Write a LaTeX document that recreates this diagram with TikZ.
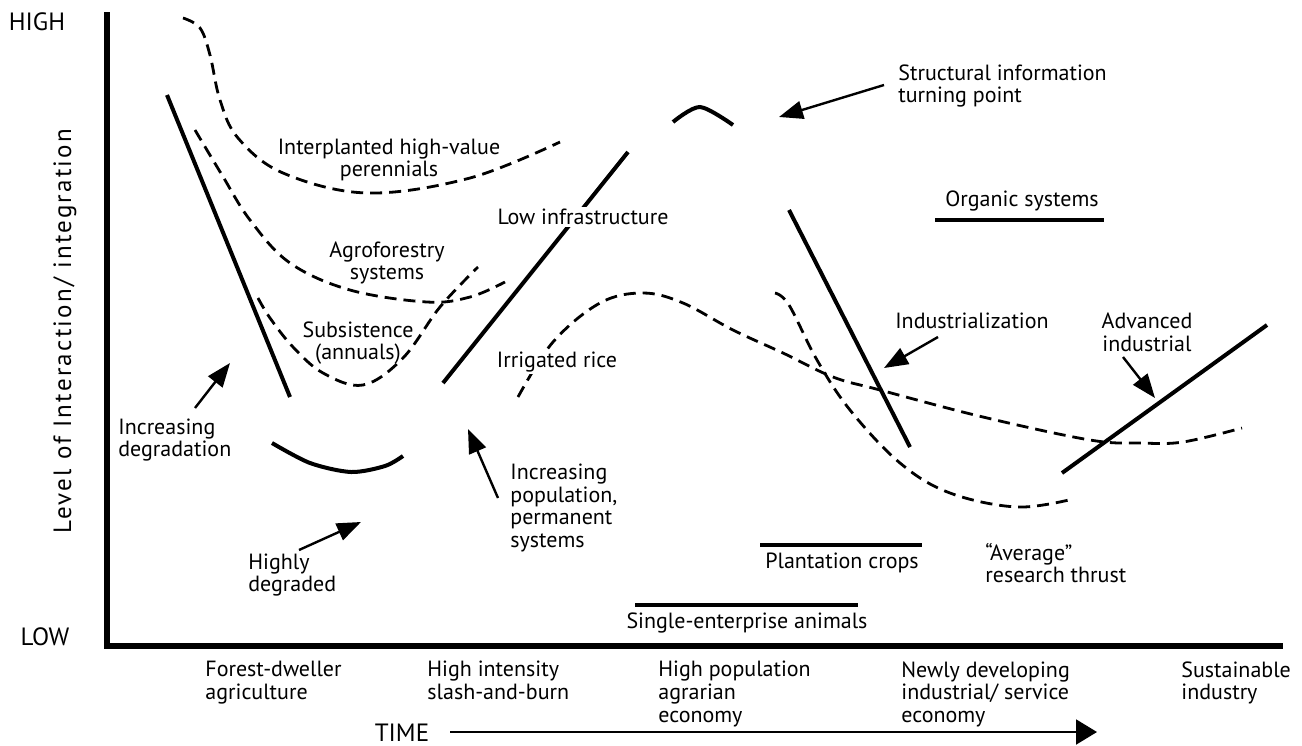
\documentclass[tikz,border=0pt]{standalone}
\usepackage{fontspec}
\setmainfont{PT Sans}
\usetikzlibrary{arrows.meta}
\begin{document}
\begin{tikzpicture}[x=0.5pt,y=-0.5pt,
  every node/.style={font=\fontsize{11}{11.4}\selectfont, inner sep=1pt},
  bigtext/.style={font=\fontsize{12.5}{14}\selectfont},
  axisline/.style={line width=3pt},
  trend/.style={line width=2pt},
  dashcurve/.style={line width=1.4pt, dash pattern=on 6pt off 3.5pt, smooth, tension=0.6},
  bar/.style={line width=2.2pt},
  pointer/.style={line width=1.2pt, -{Triangle[length=12pt,width=9pt]}},
  lbl/.style={align=center},
  lblL/.style={align=left, anchor=west},
  xlbl/.style={align=left, anchor=north west}]
\useasboundingbox (0,0) rectangle (1302,745);

% axes
\draw[axisline] (107,12) -- (107,646) -- (1283,646);
\node[bigtext] (high) at (37,22) {HIGH};
\node[bigtext] (low) at (45,637) {LOW};
\node[rotate=90, font=\fontsize{12.5}{14}\selectfont\addfontfeature{LetterSpace=9}] (ylab) at (65,331) {Level of Interaction/ integration};

% dashed system curves
\draw[dashcurve] plot coordinates {(183,18) (200,28) (210,55) (220,100) (238,138) (283,173) (367,193) (470,178) (560,142)};
\draw[dashcurve] plot coordinates {(195,130) (222,175) (250,220) (290,263) (350,290) (427,302) (470,297) (505,282)};
\draw[dashcurve] plot coordinates {(258,298) (270,318) (293,347) (323,373) (363,385) (403,358) (440,307) (478,267)};
\draw[dashcurve] plot coordinates {(518,397) (553,342) (600,303) (643,293) (683,303) (733,330) (783,353) (833,377) (880,390) (983,417) (1090,440) (1140,443) (1183,442) (1242,428)};
\draw[dashcurve] plot coordinates {(775,293) (789,305) (817,360) (850,410) (900,463) (950,493) (1017,507) (1073,499)};

% solid trend lines
\draw[trend] (167,95) -- (290,397);
\draw[trend] (443,383) -- (628,152);
\draw[trend] (789,210) -- (910,447);
\draw[trend] (1062,473) -- (1267,325);
\draw[trend, smooth] plot coordinates {(272,443) (310,463) (351,472) (385,466) (403,456)};
\draw[trend, smooth] plot coordinates {(673,122) (700,107) (733,125)};

% horizontal bars
\draw[bar] (935,220) -- (1104,220);
\draw[bar] (760,545) -- (922,545);
\draw[bar] (635,605) -- (858,605);

% labels on the curves
\node[lbl] (interp) at (389,160) {Interplanted high-value\\perennials};
\node[lbl] (agro) at (387,263) {Agroforestry\\systems};
\node[lbl] (subs) at (358,343) {Subsistence\\(annuals)};
\node[lbl, fill=white] (lowinf) at (583,217) {Low infrastructure};
\node[lbl, fill=white] (rice) at (557,362) {Irrigated rice};
\node[lblL] (struct) at (896,86) {Structural information\\turning point};
\node[lbl] (organic) at (1022,201) {Organic systems};
\node[lbl] (indus) at (972,321) {Industrialization};
\node[lbl] (adv) at (1147,332) {Advanced\\industrial};
\node[lblL] (incdeg) at (116,440) {Increasing\\degradation};
\node[lblL] (highdeg) at (246,575) {Highly\\degraded};
\node[lblL] (incpop) at (508,508) {Increasing\\population,\\permanent\\systems};
\node[lbl] (plant) at (842,563) {Plantation crops};
\node[lblL] (avg) at (983,563) {``Average''\\research thrust};
\node[lbl] (single) at (747,623) {Single-enterprise animals};

% pointers
\coordinate (tStruct) at (779,117);
\coordinate (tIndus) at (884,368);
\coordinate (tAdv) at (1155,398);
\coordinate (tDeg) at (230,363);
\coordinate (tHigh) at (361,522);
\coordinate (tPop) at (468,429);
\coordinate (sStruct) at (884,85);
\coordinate (sIndus) at (938,337);
\coordinate (sAdv) at (1123,357);
\coordinate (sDeg) at (195,408);
\coordinate (sHigh) at (299,550);
\coordinate (sPop) at (498,498);
\draw[pointer] (sStruct) -- (tStruct);
\draw[pointer] (sIndus) -- (tIndus);
\draw[pointer] (sAdv) -- (tAdv);
\draw[pointer] (sDeg) -- (tDeg);
\draw[pointer] (sHigh) -- (tHigh);
\draw[pointer] (sPop) -- (tPop);

% stages along the time axis
\node[xlbl] (s1) at (203,659) {Forest-dweller\\agriculture};
\node[xlbl] (s2) at (425,659) {High intensity\\slash-and-burn};
\node[xlbl] (s3) at (656,659) {High population\\agrarian\\economy};
\node[xlbl] (s4) at (899,659) {Newly developing\\industrial/ service\\economy};
\node[xlbl] (s5) at (1179,659) {Sustainable\\industry};

% time arrow
\node[bigtext, inner sep=0pt, anchor=base] (time) at (402,741) {TIME};
\coordinate (timeStart) at (450,732);
\coordinate (timeEnd) at (1097,732);
\draw[line width=1pt, -{Triangle[length=10.5pt,width=12.5pt]}] (timeStart) -- (timeEnd);
\end{tikzpicture}
\end{document}
